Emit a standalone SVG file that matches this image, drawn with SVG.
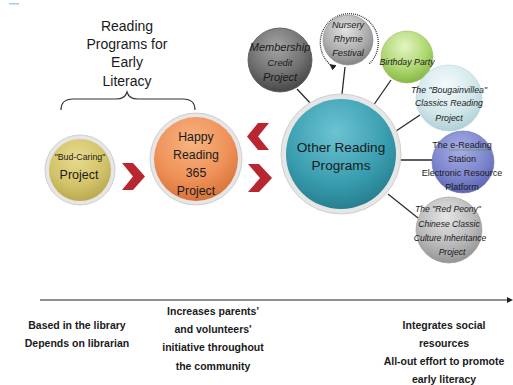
<svg xmlns="http://www.w3.org/2000/svg" width="513" height="385" viewBox="0 0 513 385">
<style>
.t{font-family:"Liberation Sans",Arial,sans-serif;fill:#1a1a1a;text-anchor:middle}
.i{font-style:italic}
.b{font-weight:bold}
.rim{fill:#e6e6e6;stroke:#cfcfcf;stroke-width:1}
.con{stroke:#2a2a2a;stroke-width:1.3;fill:none}
.chev{fill:#b8262f}
</style>
<defs>
<radialGradient id="gTeal" cx="0.45" cy="0.3" r="0.75"><stop offset="0" stop-color="#6cc3d2"/><stop offset="0.6" stop-color="#3a9fb1"/><stop offset="1" stop-color="#23798a"/></radialGradient>
<radialGradient id="gOrange" cx="0.45" cy="0.3" r="0.75"><stop offset="0" stop-color="#f8b482"/><stop offset="0.6" stop-color="#ee9158"/><stop offset="1" stop-color="#d46e35"/></radialGradient>
<radialGradient id="gKhaki" cx="0.45" cy="0.3" r="0.75"><stop offset="0" stop-color="#e6da8e"/><stop offset="0.6" stop-color="#d3c36a"/><stop offset="1" stop-color="#b5a44a"/></radialGradient>
<radialGradient id="gDark" cx="0.45" cy="0.3" r="0.75"><stop offset="0" stop-color="#a5a5a5"/><stop offset="0.6" stop-color="#6f6f6f"/><stop offset="1" stop-color="#3e3e3e"/></radialGradient>
<radialGradient id="gGrey" cx="0.45" cy="0.3" r="0.75"><stop offset="0" stop-color="#e2e2e2"/><stop offset="0.6" stop-color="#acacac"/><stop offset="1" stop-color="#7c7c7c"/></radialGradient>
<radialGradient id="gGreen" cx="0.45" cy="0.3" r="0.75"><stop offset="0" stop-color="#e4f5c4"/><stop offset="0.6" stop-color="#acd66e"/><stop offset="1" stop-color="#80b040"/></radialGradient>
<radialGradient id="gCyan" cx="0.45" cy="0.3" r="0.75"><stop offset="0" stop-color="#f2fafb"/><stop offset="0.6" stop-color="#d2e7eb"/><stop offset="1" stop-color="#a9ccd3"/></radialGradient>
<radialGradient id="gBlue" cx="0.45" cy="0.3" r="0.75"><stop offset="0" stop-color="#a9aee6"/><stop offset="0.6" stop-color="#7d85cc"/><stop offset="1" stop-color="#5860ae"/></radialGradient>
<radialGradient id="gPeony" cx="0.45" cy="0.3" r="0.75"><stop offset="0" stop-color="#e6e6e6"/><stop offset="0.6" stop-color="#b8b8b8"/><stop offset="1" stop-color="#8e8e8e"/></radialGradient>
<marker id="arr" viewBox="0 0 10 10" refX="5" refY="5" markerWidth="5" markerHeight="5" orient="auto"><path d="M0,0 L10,5 L0,10 z" fill="#222"/></marker>
</defs>

<rect x="0" y="0" width="513" height="385" fill="#ffffff"/>
<rect x="9" y="3" width="10" height="1.5" fill="#a9c8ec"/>

<g id="title">
<text class="t" font-size="14" x="127" y="31">Reading</text>
<text class="t" font-size="14" x="127" y="49">Programs for</text>
<text class="t" font-size="14" x="127" y="67">Early</text>
<text class="t" font-size="14" x="127" y="86">Literacy</text>
<path d="M61,110 Q61,99 73,99 L116,99 Q125,99 127,92 Q129,99 138,99 L183,99 Q195,99 195,110" fill="none" stroke="#333" stroke-width="1.2"/>
</g>

<g id="connectors">
<line class="con" x1="297" y1="89" x2="312" y2="105"/>
<line class="con" x1="345" y1="67" x2="342" y2="94"/>
<line class="con" x1="391" y1="80" x2="373" y2="106"/>
<line class="con" x1="420" y1="115" x2="396" y2="131"/>
<line class="con" x1="400" y1="160" x2="433" y2="160"/>
<line class="con" x1="388" y1="194" x2="418" y2="218"/>
<polygon class="chev" points="122,163 133,163 145,176.5 133,190 122,190 133,176.5"/>
<polygon class="chev" points="269,123 258,123 247,136.5 258,150 269,150 258,136.5"/>
<polygon class="chev" points="248,164 259,164 272,178 259,192 248,192 260,178"/>
<path d="M332,66 A29,29 0 1 1 369,64" fill="none" stroke="#333" stroke-width="1.3" stroke-dasharray="1 1" marker-start="url(#arr)"/>
<line x1="40" y1="300" x2="508" y2="300" stroke="#222" stroke-width="1.2"/>
<polygon points="507,297 513,300 507,303" fill="#222"/>
</g>

<g id="bud">
<circle class="rim" cx="80" cy="170" r="35"/>
<circle cx="80" cy="170" r="31" fill="url(#gKhaki)"/>
<text class="t" font-size="8.8" x="80" y="160">"Bud-Caring"</text>
<text class="t" font-size="12.5" x="79" y="179">Project</text>
</g>

<g id="happy">
<circle class="rim" cx="196" cy="159" r="46"/>
<circle cx="196" cy="159" r="42" fill="url(#gOrange)"/>
<text class="t" font-size="12.3" x="196" y="141">Happy</text>
<text class="t" font-size="12.3" x="196" y="159">Reading</text>
<text class="t" font-size="12.3" x="196" y="177">365</text>
<text class="t" font-size="12.3" x="196" y="195">Project</text>
</g>

<g id="other">
<circle class="rim" cx="341" cy="154" r="60"/>
<circle cx="341" cy="154" r="55" fill="url(#gTeal)"/>
<text class="t" font-size="13.6" x="341" y="152">Other Reading</text>
<text class="t" font-size="13.6" x="341" y="170">Programs</text>
</g>

<g id="membership">
<circle cx="280" cy="60" r="32" fill="url(#gDark)" stroke="#555" stroke-width="0.8"/>
<text class="t i" font-size="11" x="280" y="51">Membership</text>
<text class="t i" font-size="9.3" x="280" y="66">Credit</text>
<text class="t i" font-size="11" x="280" y="81">Project</text>
</g>

<g id="nursery">
<circle cx="348" cy="40" r="25" fill="url(#gGrey)" stroke="#888" stroke-width="0.6"/>
<text class="t i" font-size="9.2" x="348" y="28">Nursery</text>
<text class="t i" font-size="9.2" x="348" y="42">Rhyme</text>
<text class="t i" font-size="9.2" x="348" y="56">Festival</text>
</g>

<g id="birthday">
<circle cx="407" cy="57" r="26" fill="url(#gGreen)" stroke="#9cc060" stroke-width="0.6"/>
<text class="t i" font-size="8.8" x="407" y="65">Birthday Party</text>
</g>

<g id="bougainvillea">
<circle cx="449" cy="98" r="33" fill="url(#gCyan)" stroke="#b6d2d8" stroke-width="0.6"/>
<text class="t i" font-size="8.8" x="449" y="93">The "Bougainvillea"</text>
<text class="t i" font-size="8.8" x="449" y="106">Classics Reading</text>
<text class="t i" font-size="8.8" x="449" y="121">Project</text>
</g>

<g id="ereading">
<circle cx="463" cy="162" r="31" fill="url(#gBlue)" stroke="#6a72bd" stroke-width="0.6"/>
<text class="t" font-size="9" x="462" y="148">The e-Reading</text>
<line x1="449" y1="150" x2="492" y2="150" stroke="#3a9a3a" stroke-width="0.6"/>
<text class="t" font-size="9" x="462" y="162">Station</text>
<text class="t" font-size="9" x="462" y="176">Electronic Resource</text>
<text class="t" font-size="9" x="462" y="190">Platform</text>
</g>

<g id="peony">
<circle cx="449" cy="230" r="33" fill="url(#gPeony)" stroke="#999" stroke-width="0.6"/>
<text class="t i" font-size="8.6" x="448" y="212">The "Red Peony"</text>
<text class="t i" font-size="8.6" x="449" y="227">Chinese Classic</text>
<text class="t i" font-size="8.6" x="450" y="241">Culture Inheritance</text>
<text class="t i" font-size="8.6" x="452" y="255">Project</text>
</g>

<g id="notes">
<text class="t b" font-size="10.5" x="77" y="329">Based in the library</text>
<text class="t b" font-size="10.5" x="77" y="347">Depends on librarian</text>
<text class="t b" font-size="10.5" x="213" y="315">Increases parents'</text>
<text class="t b" font-size="10.5" x="213" y="333">and volunteers'</text>
<text class="t b" font-size="10.5" x="213" y="351">initiative throughout</text>
<text class="t b" font-size="10.5" x="213" y="370">the community</text>
<text class="t b" font-size="10.5" x="444" y="329">Integrates social</text>
<text class="t b" font-size="10.5" x="444" y="347">resources</text>
<text class="t b" font-size="10.5" x="444" y="365">All-out effort to promote</text>
<text class="t b" font-size="10.5" x="444" y="383">early literacy</text>
</g>
</svg>
